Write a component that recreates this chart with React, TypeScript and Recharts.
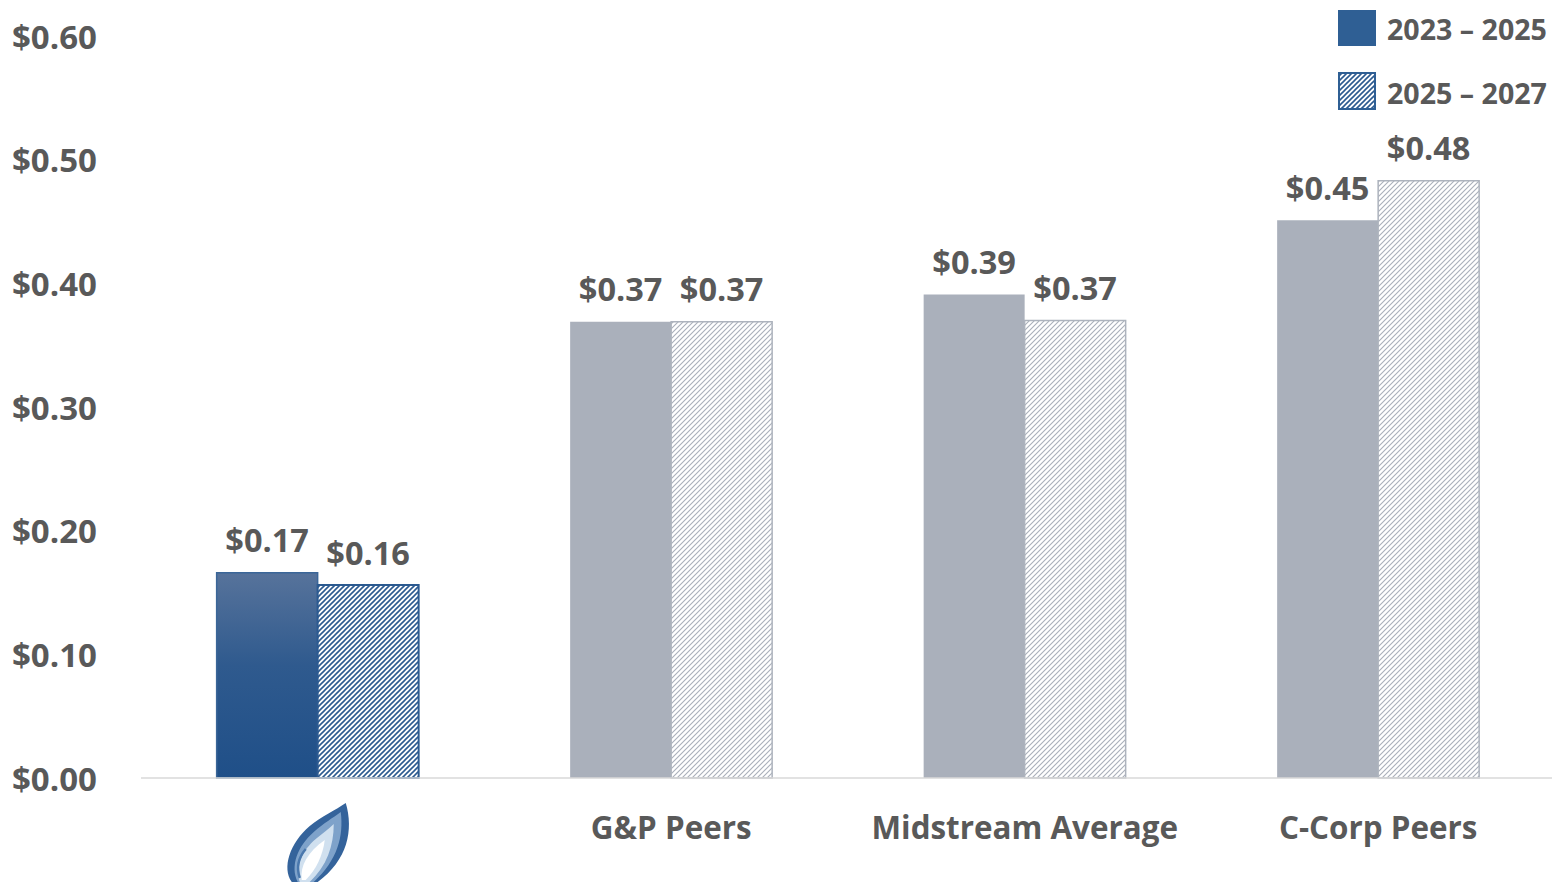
import React from "react";
import { BarChart, Bar, XAxis, YAxis, Cell, LabelList, Legend } from "recharts";

const categories = ["Antero Midstream", "G&P Peers", "Midstream Average", "C-Corp Peers"];
const series2023to2025 = [0.166, 0.369, 0.391, 0.451];
const series2025to2027 = [0.156, 0.369, 0.37, 0.483];
const seriesNames = ["2023 – 2025", "2025 – 2027"];
const yTicks = [0, 0.1, 0.2, 0.3, 0.4, 0.5, 0.6];

const data = categories.map((c, i) => ({
  category: c,
  a: series2023to2025[i],
  b: series2025to2027[i],
}));

const FONT = "'Open Sans', 'DejaVu Sans', sans-serif";
const TEXT = "#595959";
const GRAY = "#aab0bb";
const BLUE = "#2f5f94";

const fmt = (v: number) => "$" + v.toFixed(2);

const YTick = (props: any) => {
  const { y, payload } = props;
  return (
    <text x={12} y={y} dominantBaseline="central" textAnchor="start" fontFamily={FONT} fontWeight={700} fontSize={33} fill={TEXT}>
      {fmt(payload.value)}
    </text>
  );
};

const Logo = ({ cx, top }: { cx: number; top: number }) => {
  const dx = cx - 318;
  const dy = top - 805;
  return (
    <g transform={`translate(${dx},${dy})`}>
      <path d="M346,805 C354,832 348,862 318,884 L292,884 C282,870 290,845 310,828 C322,818 336,812 346,805 Z" fill="#34639b" />
      <path d="M341,814 C344,838 338,862 314,884 L298,884 C290,868 298,848 314,834 C324,825 333,820 341,814 Z" fill="#7ea2ca" />
      <path d="M334,826 C334,848 327,868 310,884 L300,884 C295,868 303,852 316,841 C322,836 329,831 334,826 Z" fill="#d0e0ef" />
      <path d="M325,842 C323,858 316,872 306,882 L302,882 C300,868 308,854 325,842 Z" fill="#ffffff" />
      <path d="M300,880 C296,868 300,858 306,851" stroke="#4a78ad" strokeWidth={2.5} fill="none" />
    </g>
  );
};

const XTick = (props: any) => {
  const { x, y, payload, index } = props;
  if (index === 0) {
    return <Logo cx={x} top={y + 17} />;
  }
  return (
    <text x={x} y={y + 40} dominantBaseline="central" textAnchor="middle" fontFamily={FONT} fontWeight={700} fontSize={31.4} fill={TEXT}>
      {payload.value}
    </text>
  );
};

const ValueLabel = (props: any) => {
  const { x, y, width, value } = props;
  return (
    <text x={x + width / 2} y={y - 33} dominantBaseline="central" textAnchor="middle" fontFamily={FONT} fontWeight={700} fontSize={32.5} fill={TEXT}>
      {fmt(value)}
    </text>
  );
};

const LegendContent = () => (
  <svg width={222} height={120} style={{ display: "block" }}>
    <rect x={8} y={10} width={38} height={36} fill={BLUE} />
    <text x={57} y={28} dominantBaseline="central" fontFamily={FONT} fontWeight={700} fontSize={28.6} fill={TEXT}>
      {seriesNames[0]}
    </text>
    <rect x={9} y={73} width={36} height={36} fill="url(#blueHatch)" stroke={BLUE} strokeWidth={2} />
    <text x={57} y={92} dominantBaseline="central" fontFamily={FONT} fontWeight={700} fontSize={28.6} fill={TEXT}>
      {seriesNames[1]}
    </text>
  </svg>
);

export default function App() {
  return (
    <div style={{ position: "absolute", left: 0, top: 0, width: 1552, height: 884, background: "#fff", overflow: "hidden" }}>
      <svg width={0} height={0} style={{ position: "absolute" }}>
        <defs>
          <linearGradient id="blueGrad" x1="0" y1="0" x2="0" y2="1">
            <stop offset="0%" stopColor="#57739b" />
            <stop offset="45%" stopColor="#2f5a8e" />
            <stop offset="100%" stopColor="#1f4f88" />
          </linearGradient>
          <pattern id="blueHatch" patternUnits="userSpaceOnUse" width={5} height={5}>
            <rect width={5} height={5} fill="#ffffff" />
            <path d="M0,5 L5,0 M-1,1 L1,-1 M4,6 L6,4" stroke="#2c5a90" strokeWidth={1.6} />
          </pattern>
          <pattern id="grayHatch" patternUnits="userSpaceOnUse" width={5} height={5}>
            <rect width={5} height={5} fill="#ffffff" />
            <path d="M0,5 L5,0 M-1,1 L1,-1 M4,6 L6,4" stroke="#a9afba" strokeWidth={1.1} />
          </pattern>
        </defs>
      </svg>
      <BarChart
        width={1552}
        height={884}
        data={data}
        margin={{ top: 36, right: -3, bottom: 0, left: 0 }}
        barCategoryGap="21.4%"
        barGap={0}
      >
        <XAxis
          dataKey="category"
          axisLine={{ stroke: "#d9d9d9", strokeWidth: 1.5 }}
          tickLine={false}
          tick={<XTick />}
          height={106}
          interval={0}
        />
        <YAxis
          domain={[0, 0.6]}
          ticks={yTicks}
          axisLine={false}
          tickLine={false}
          width={141}
          tick={<YTick />}
        />
        <Legend
          layout="vertical"
          align="center"
          verticalAlign="middle"
          wrapperStyle={{ left: 1330, top: 0, width: 222, height: 120 }}
          content={() => <LegendContent />}
        />
        <Bar dataKey="a" name={seriesNames[0]} isAnimationActive={false} fill={BLUE}>
          {data.map((_, i) => (
            <Cell
              key={i}
              fill={i === 0 ? "url(#blueGrad)" : GRAY}
              stroke={i === 0 ? "#3b6698" : "none"}
              strokeWidth={i === 0 ? 1.5 : 0}
            />
          ))}
          <LabelList dataKey="a" content={<ValueLabel />} />
        </Bar>
        <Bar dataKey="b" name={seriesNames[1]} isAnimationActive={false} fill="url(#blueHatch)">
          {data.map((_, i) => (
            <Cell
              key={i}
              fill={i === 0 ? "url(#blueHatch)" : "url(#grayHatch)"}
              stroke={i === 0 ? "#2c5a90" : "#adb3bd"}
              strokeWidth={i === 0 ? 2 : 1.5}
            />
          ))}
          <LabelList dataKey="b" content={<ValueLabel />} />
        </Bar>
      </BarChart>
    </div>
  );
}
